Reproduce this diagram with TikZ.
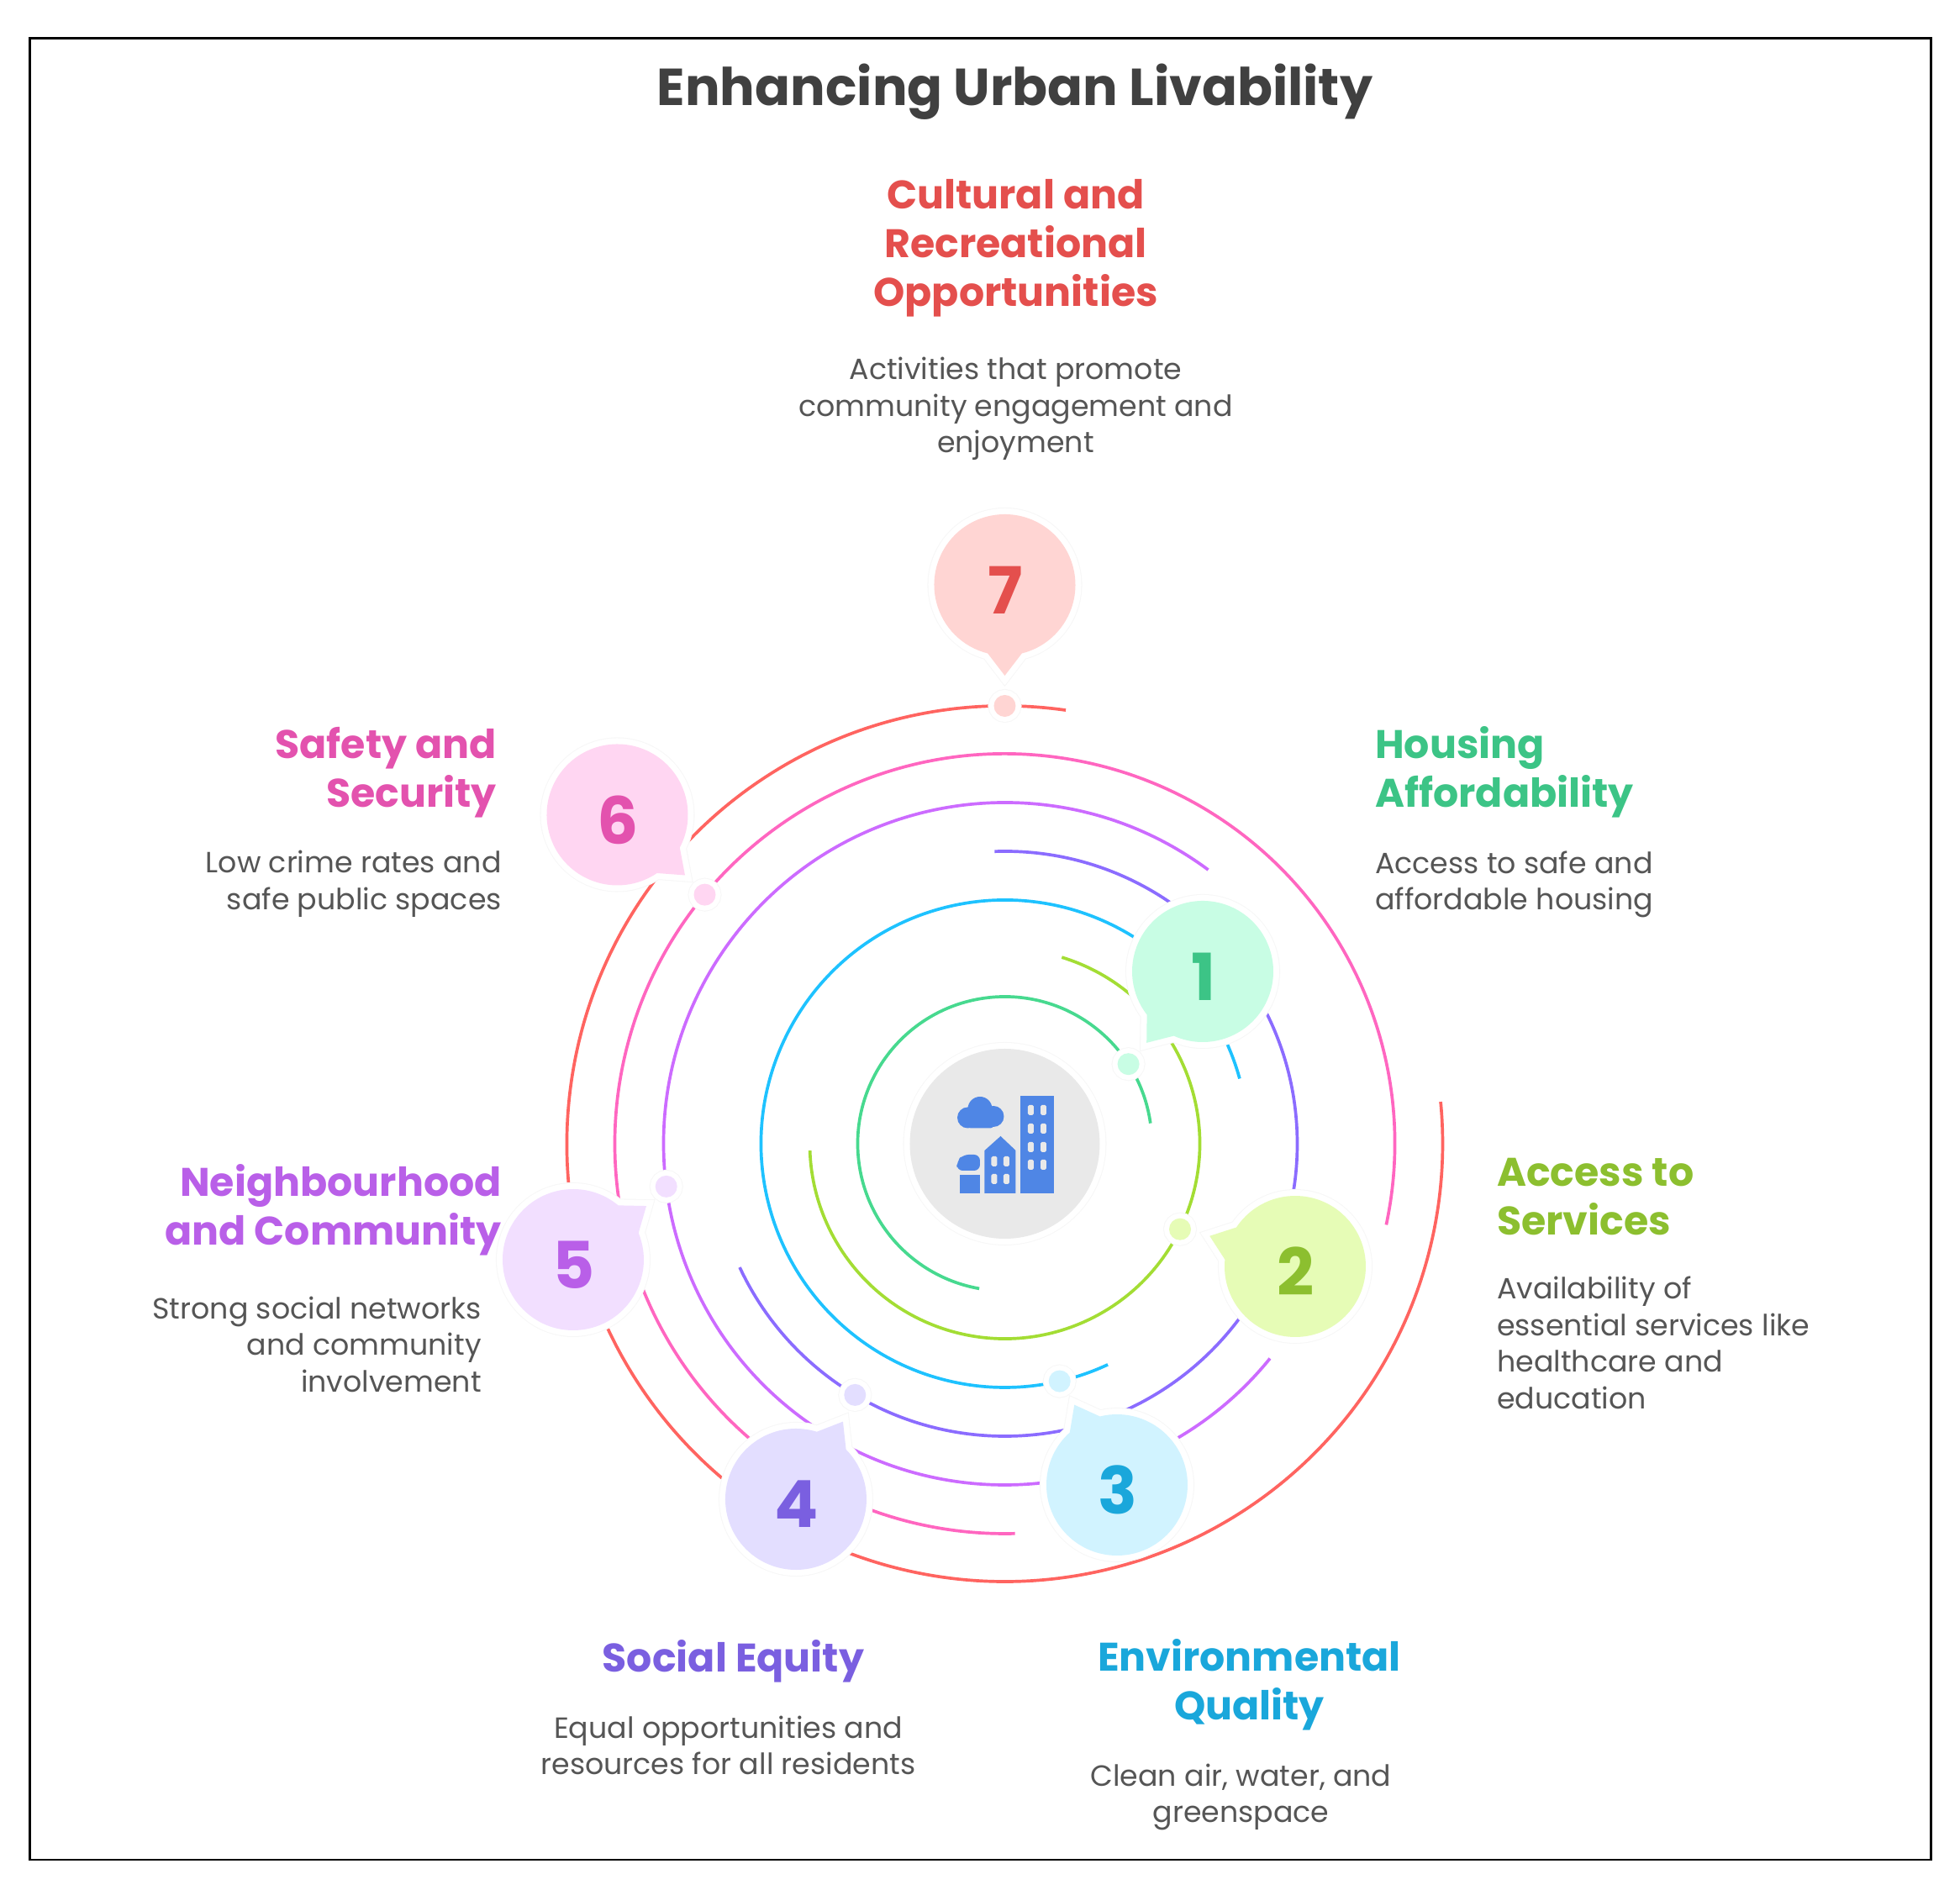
\documentclass[tikz,border=0pt]{standalone}
\usepackage{fontspec}
\setmainfont{Poppins}
\usetikzlibrary{positioning}

\definecolor{ringone}{HTML}{47D98F}
\definecolor{ringtwo}{HTML}{A3DD34}
\definecolor{ringthree}{HTML}{1EC2FF}
\definecolor{ringfour}{HTML}{8B6CFF}
\definecolor{ringfive}{HTML}{CC6BFF}
\definecolor{ringsix}{HTML}{FF66C0}
\definecolor{ringseven}{HTML}{FF6460}
\definecolor{paleone}{HTML}{C8FDE4}
\definecolor{paletwo}{HTML}{E6FCB6}
\definecolor{palethree}{HTML}{D1F3FF}
\definecolor{palefour}{HTML}{E3DEFF}
\definecolor{palefive}{HTML}{F2DFFF}
\definecolor{palesix}{HTML}{FFD6F2}
\definecolor{paleseven}{HTML}{FFD5D3}
\definecolor{inkone}{HTML}{3CC486}
\definecolor{inktwo}{HTML}{8CBF2F}
\definecolor{inkthree}{HTML}{1AA7DB}
\definecolor{inkfour}{HTML}{7A5FE0}
\definecolor{inkfive}{HTML}{B95FE8}
\definecolor{inksix}{HTML}{E352AE}
\definecolor{inkseven}{HTML}{E44F4D}
\definecolor{hubgrey}{HTML}{E9E9E9}
\definecolor{iconblue}{HTML}{4F86E5}
\definecolor{descgrey}{HTML}{555555}
\definecolor{titlegrey}{HTML}{404040}

% name, centre, tail angle, fill, ink, number
\newcommand{\bubble}[6]{%
  \coordinate (#1) at (#2);
  \path[bubblebody, fill=#4] ([shift={(#3+14:.84)}]#1)
    arc[start angle=#3+14, delta angle=332, radius=.84]
    -- ([shift={(#3:1.08)}]#1) -- cycle;
  \node[number, text=#5] (#1num) at ([shift={(.01,-.06)}]#1) {#6};
}

\begin{document}
\begin{tikzpicture}[
  halo/.style      ={draw=black!3, line width=.3pt, double=white},
  ring/.style      ={line width=1.05pt},
  bubblebody/.style={preaction={halo, double distance=1.4mm}},
  dot/.style       ={circle, inner sep=0pt, minimum size=2.6mm, preaction={halo, double distance=1.2mm}},
  number/.style    ={inner sep=0pt, font=\fontsize{22}{22}\selectfont\bfseries},
  maintitle/.style ={inner sep=0pt, text=titlegrey, font=\fontsize{17.6}{20}\selectfont\bfseries},
  head/.style      ={inner sep=0pt, font=\fontsize{13.5}{16.5}\selectfont\bfseries},
  desc/.style      ={inner sep=0pt, text=descgrey, font=\fontsize{9.9}{12.4}\selectfont},
  icon/.style      ={fill=iconblue},
  pane/.style      ={fill=hubgrey, rounded corners=.5pt},
]
\useasboundingbox (-11.955,13.61) rectangle (11.365,-8.88);
\draw[line width=.85pt] (-11.598,13.15) rectangle (11.018,-8.52);

% --- rings ---
\draw[ring, ringone]   (8:1.75)    arc[start angle=8,    end angle=260,  radius=1.75];
\draw[ring, ringtwo]   (73:2.32)   arc[start angle=73,   end angle=-178, radius=2.32];
\draw[ring, ringthree] (15.5:2.90) arc[start angle=15.5, end angle=295,  radius=2.90];
\draw[ring, ringfour]  (92:3.48)   arc[start angle=92,   end angle=-155, radius=3.48];
\draw[ring, ringfive]  (53.4:4.06) arc[start angle=53.4, end angle=321,  radius=4.06];
\draw[ring, ringsix]   (-12:4.64)  arc[start angle=-12,  end angle=271.5, radius=4.64];
\draw[ring, ringseven] (82:5.21)   arc[start angle=82,   end angle=365.5, radius=5.21];

% --- hub ---
\node[circle, minimum size=22.6mm, inner sep=0pt, fill=hubgrey, preaction={halo, double distance=1.4mm}] (hub) at (0,0) {};

% --- city icon ---
\fill[icon] (-.44,.31) circle (.125) (-.295,.415) circle (.145) (-.135,.325) circle (.125);
\fill[icon, rounded corners=1pt] (-.44,.185) rectangle (-.135,.40);
\fill[icon] (.19,.57) rectangle (.58,-.59);
\fill[icon] (-.24,-.59) -- (-.24,-.08) -- (-.05,.09) -- (.13,-.08) -- (.13,-.59) -- cycle;
\fill[icon, rounded corners=2pt] (-.57,-.32) -- (-.57,-.21) -- (-.50,-.13) -- (-.295,-.13) -- (-.295,-.32) -- cycle;
\fill[icon] (-.535,-.375) rectangle (-.295,-.59);
\fill[pane] (.275,.46) rectangle (.345,.34);  \fill[pane] (.425,.46) rectangle (.495,.34);
\fill[pane] (.275,.24) rectangle (.345,.12);  \fill[pane] (.425,.24) rectangle (.495,.12);
\fill[pane] (.275,.02) rectangle (.345,-.10); \fill[pane] (.425,.02) rectangle (.495,-.10);
\fill[pane] (.275,-.19) rectangle (.345,-.31); \fill[pane] (.425,-.19) rectangle (.495,-.31);
\fill[pane] (-.16,-.15) rectangle (-.09,-.27); \fill[pane] (-.015,-.15) rectangle (.055,-.27);
\fill[pane] (-.16,-.36) rectangle (-.09,-.48); \fill[pane] (-.015,-.36) rectangle (.055,-.48);

% --- bubbles ---
\bubble{bone}{2.355,2.05}{231.8}{paleone}{inkone}{1}
\bubble{btwo}{3.455,-1.46}{160.4}{paletwo}{inktwo}{2}
\bubble{bthree}{1.335,-4.06}{118}{palethree}{inkthree}{3}
\bubble{bfour}{-2.485,-4.23}{58.8}{palefour}{inkfour}{4}
\bubble{bfive}{-5.135,-1.38}{36.3}{palefive}{inkfive}{5}
\bubble{bsix}{-4.61,3.915}{-41.8}{palesix}{inksix}{6}
\bubble{bseven}{0,6.65}{-90}{paleseven}{inkseven}{7}

% --- dots ---
\node[dot, fill=paleone]   (done)   at (32.8:1.75) {};
\node[dot, fill=paletwo]   (dtwo)   at (-26:2.32) {};
\node[dot, fill=palethree] (dthree) at (-77:2.90) {};
\node[dot, fill=palefour]  (dfour)  at (239.2:3.48) {};
\node[dot, fill=palefive]  (dfive)  at (187.2:4.06) {};
\node[dot, fill=palesix]   (dsix)   at (140.3:4.64) {};
\node[dot, fill=paleseven] (dseven) at (90:5.21) {};

% --- title ---
\node[maintitle] (title) at (.12,12.52) {Enhancing Urban Livability};

% --- labels ---
\node[head, text=inkseven, align=center] (hseven) at (.13,10.66) {Cultural and\\Recreational\\Opportunities};
\node[desc, align=center, below=4.7mm of hseven] (tseven) {Activities that promote\\community engagement and\\enjoyment};

\node[head, text=inkone, align=left, anchor=west] (hone) at (4.40,4.42) {Housing\\Affordability};
\node[desc, align=left, below=3.8mm of hone.south west, anchor=north west] (tone) {Access to safe and\\affordable housing};

\node[head, text=inktwo, align=left, anchor=west] (htwo) at (5.85,-.63) {Access to\\Services};
\node[desc, align=left, below=4.8mm of htwo.south west, anchor=north west] (ttwo) {Availability of\\essential services like\\healthcare and\\education};

\node[head, text=inkthree, align=center] (hthree) at (2.91,-6.44) {Environmental\\Quality};
\node[desc, align=center, below=3.8mm of hthree, xshift=-1mm] (tthree) {Clean air, water, and\\greenspace};

\node[head, text=inkfour, align=center] (hfour) at (-3.23,-6.16) {Social Equity};
\node[desc, align=center, below=3.8mm of hfour, xshift=-.6mm] (tfour) {Equal opportunities and\\resources for all residents};

\node[head, text=inkfive, align=right, anchor=east] (hfive) at (-5.98,-.79) {Neighbourhood\\and Community};
\node[desc, align=right, below=4.7mm of hfive.south east, anchor=north east, xshift=-2.4mm] (tfive) {Strong social networks\\and community\\involvement};

\node[head, text=inksix, align=right, anchor=east] (hsix) at (-6.04,4.42) {Safety and\\Security};
\node[desc, align=right, below=3.8mm of hsix.south east, anchor=north east, xshift=.6mm] (tsix) {Low crime rates and\\safe public spaces};
\end{tikzpicture}
\end{document}
